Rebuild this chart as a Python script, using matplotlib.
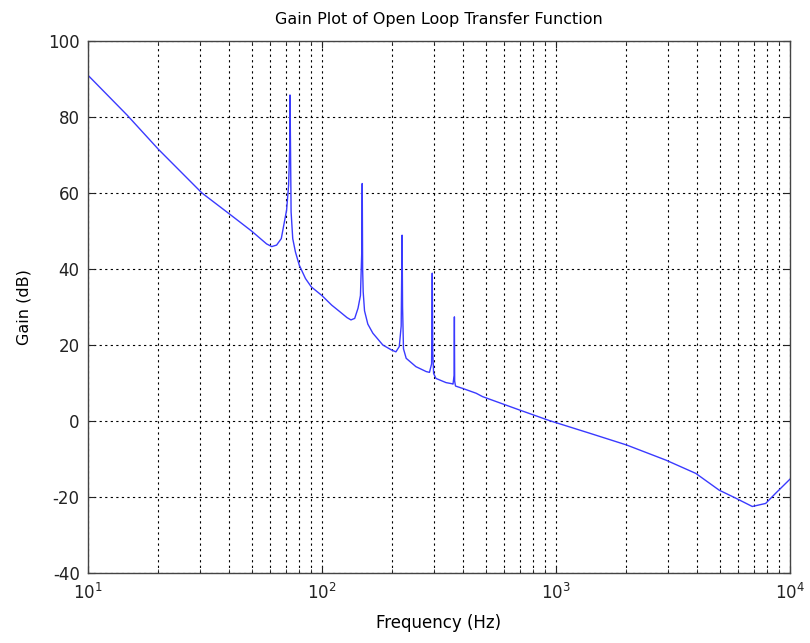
import matplotlib
matplotlib.use("Agg")
import matplotlib.pyplot as plt
from matplotlib.ticker import LogLocator, NullFormatter

freq_hz = [10, 14.7, 20, 30.7, 40, 50, 58, 61, 64, 67, 70.6, 72, 72.8, 73, 73.3, 73.8, 75, 77, 80, 85, 90,
           100, 110, 119, 128, 133, 138, 142.6, 146, 148, 148.6, 149.2, 150, 152, 157, 165, 182, 198, 207,
           214, 218, 220, 221, 223, 229, 252, 279, 288, 294, 296, 297.5, 300, 307, 339, 360, 363,
           367, 368, 369, 372, 398, 456, 486, 698, 938, 1390, 2000, 2950, 3960,
           4980, 5860, 6900, 7870, 8690, 10000]
gain_db = [91, 80.5, 71.5, 60, 54.6, 50, 46.6, 45.9, 46.3, 48, 55.5, 62, 72, 85.8, 75, 55, 48, 44.5, 41, 37.5, 35.3,
           33, 30.5, 28.8, 27.2, 26.6, 27, 29.7, 33, 45, 62.5, 40, 34, 29, 25.5, 23.1, 20, 18.7, 18.2,
           19.6, 25, 48.9, 30, 19, 16.5, 14.3, 13, 12.8, 15, 38.9, 18, 12.5, 11.2, 10.1, 9.8, 9.7,
           12, 27.4, 10.5, 9.2, 8.6, 7.3, 6.4, 2.9, 0.1, -3.2, -6.3, -10.3, -13.8,
           -18.2, -20.3, -22.5, -21.7, -19, -15.3]

title = "Gain Plot of Open Loop Transfer Function"
xlabel = "Frequency (Hz)"
ylabel = "Gain (dB)"
yticks = [-40, -20, 0, 20, 40, 60, 80, 100]

plt.rcParams['font.family'] = ['DejaVu Sans']
plt.rcParams['axes.unicode_minus'] = False
fig = plt.figure(figsize=(8.1, 6.43), dpi=100)
ax = fig.add_axes([0.1086, 0.1089, 0.8667, 0.8273])
ax.plot(freq_hz, gain_db, color='#3a3aff', lw=1.0)
ax.set_xscale('log')
ax.set_xlim(10, 10000)
ax.set_ylim(-40, 100)
ax.set_yticks(yticks)
ax.xaxis.set_major_locator(LogLocator(base=10, numticks=10))
ax.xaxis.set_minor_locator(LogLocator(base=10, subs=range(2, 10), numticks=100))
ax.xaxis.set_minor_formatter(NullFormatter())
ax.grid(True, which='major', axis='both', color='black', linestyle=(0, (2, 3)), lw=0.8)
ax.grid(True, which='minor', axis='x', color='black', linestyle=(0, (2, 3)), lw=0.8)
ax.tick_params(which='both', direction='in', top=True, right=True, labelsize=12, colors='#222222')
ax.tick_params(which='major', length=5)
ax.tick_params(which='minor', length=3)
ax.tick_params(axis='x', which='major', pad=7)
ax.tick_params(axis='y', which='major', pad=6)
for s in ax.spines.values():
    s.set_color('#444444')
    s.set_linewidth(1.0)
ax.set_title(title, fontsize=11.5, pad=12)
ax.set_xlabel(xlabel, fontsize=12, labelpad=8)
ax.set_ylabel(ylabel, fontsize=11.5, labelpad=12)
fig.savefig("out.png", dpi=100)
